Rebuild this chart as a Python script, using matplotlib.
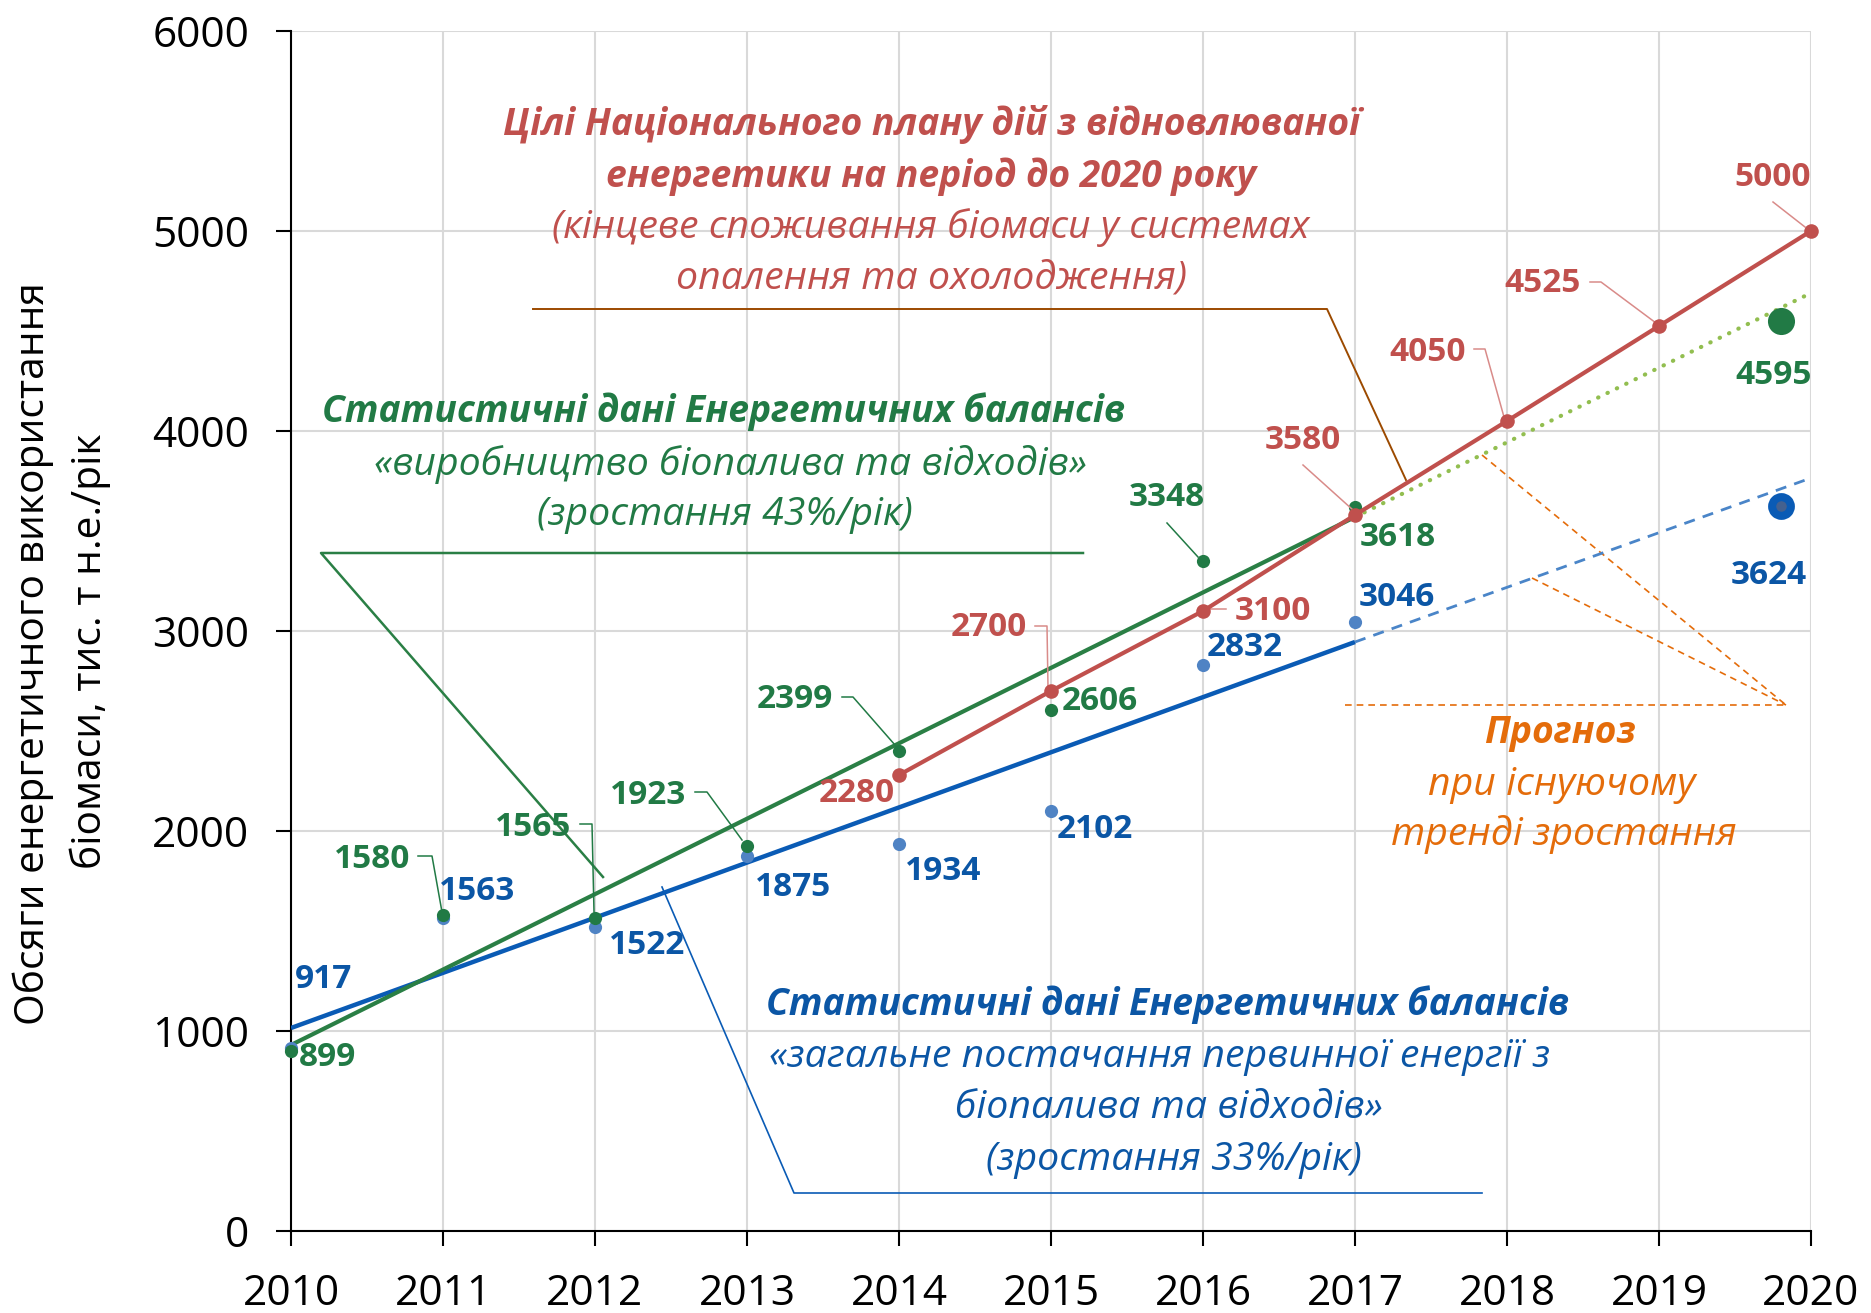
import matplotlib
matplotlib.use('Agg')
import matplotlib.pyplot as plt

plt.rcParams['font.family'] = ['Open Sans', 'DejaVu Sans']

# ---------------- data ----------------
years = [2010, 2011, 2012, 2013, 2014, 2015, 2016, 2017]
supply = [917, 1563, 1522, 1875, 1934, 2102, 2832, 3046]          # blue
production = [899, 1580, 1565, 1923, 2399, 2606, 3348, 3618]      # green
target_years = [2014, 2015, 2016, 2017, 2018, 2019, 2020]
target = [2280, 2700, 3100, 3580, 4050, 4525, 5000]               # red

trend_years = [2010, 2017]
supply_trend = [1015, 2945]
production_trend = [930, 3570]
forecast_years = [2017, 2020]
supply_forecast_line = [2945, 3765]
production_forecast_line = [3570, 4690]

forecast_point_year = 2019.8
supply_forecast = 3624
production_forecast = 4595
production_forecast_marker = 4550

x_ticks = [2010, 2011, 2012, 2013, 2014, 2015, 2016, 2017, 2018, 2019, 2020]
y_ticks = [0, 1000, 2000, 3000, 4000, 5000, 6000]

# ---------------- colours ----------------
RED = '#C0504D'
RED_LIGHT = '#D98B89'
GREEN = '#217A45'
GREEN_LINE = '#2A7F45'
GREEN_DOT = '#92BE50'
BLUE_TXT = '#0B56A5'
BLUE_LINE = '#0A5BB5'
BLUE_PT = '#4F83C4'
BLUE_DASH = '#4A85C8'
ORANGE = '#E46C0A'
BROWN = '#9C4A00'

W, H = 1871, 1313
fig = plt.figure(figsize=(W / 100, H / 100), dpi=100)
X0, X1, Y0, Y1 = 291, 1811, 31, 1231
ax = fig.add_axes([X0 / W, (H - Y1) / H, (X1 - X0) / W, (Y1 - Y0) / H])
ax.set_xlim(2010, 2020)
ax.set_ylim(0, 6000)


def P(x, y):
    """full-image pixel -> data coordinates (for annotation placement)"""
    return 2010 + (x - X0) / 152.0, (Y1 - y) * 6000.0 / (Y1 - Y0)


renderer = fig.canvas.get_renderer()


def fit(text, width_px, **kw):
    t = fig.text(0, 0, text, fontsize=20, **kw)
    w = t.get_window_extent(renderer).width
    t.remove()
    return 20 * width_px / w


# grid & axes
ax.set_xticks(x_ticks)
ax.set_yticks(y_ticks)
ax.grid(True, color='#D9D9D9', lw=1.5, zorder=0)
ax.set_axisbelow(True)
for s in ['top', 'right']:
    ax.spines[s].set_visible(False)
for s in ['left', 'bottom']:
    ax.spines[s].set_color('black')
    ax.spines[s].set_linewidth(1.5)
ax.tick_params(axis='both', direction='out', length=11, width=1.5, labelsize=30.5)
ax.tick_params(axis='x', pad=19)
ax.tick_params(axis='y', pad=19)

# trend lines
ax.plot(trend_years, supply_trend, color=BLUE_LINE, lw=3.2, zorder=3, solid_capstyle='butt')
ax.plot(forecast_years, supply_forecast_line, color=BLUE_DASH, lw=2.0, ls=(0, (4, 3)), zorder=3)
ax.plot(trend_years, production_trend, color=GREEN_LINE, lw=3.0, zorder=3, solid_capstyle='butt')
ax.plot(forecast_years, production_forecast_line, color=GREEN_DOT, lw=3.0,
        ls=(0, (0.1, 2.4)), dash_capstyle='round', zorder=3)

# data points
ax.plot(years, supply, 'o', color=BLUE_PT, ms=9.5, mew=0, zorder=4, clip_on=False)
ax.plot(years, production, 'o', color=GREEN, ms=9.5, mew=0, zorder=5, clip_on=False)
ax.plot(target_years, target, '-o', color=RED, lw=3.0, ms=10.5, mew=0, zorder=6, clip_on=False)

# forecast points
ax.plot([forecast_point_year], [production_forecast_marker], 'o', color=GREEN, ms=19.5,
        mew=0, zorder=7, clip_on=False)
ax.plot([forecast_point_year], [supply_forecast], 'o', mfc='#44618F', mec='#0A5BB5',
        ms=13.5, mew=5.8, zorder=7, clip_on=False)

# ---------------- data labels ----------------
lab_fs = 24
supply_pos = [(323, 979), (477, 891), (647, 945), (793, 887), (943, 872), (1095, 830),
              (1245, 648), (1397, 597)]
production_pos = [(327, 1057), (372, 859), (533, 827), (648, 796), (795, 700), (1100, 702),
                  (1167, 497), (1398, 537)]
target_pos = [(857, 793), (989, 627), (1273, 612), (1303, 440), (1428, 352), (1543, 283),
              (1773, 178)]

for v, p in zip(supply, supply_pos):
    ax.text(*P(*p), f'{v}', color=BLUE_TXT, fontsize=lab_fs, fontweight='bold',
            ha='center', va='center', zorder=8)
for v, p in zip(production, production_pos):
    ax.text(*P(*p), f'{v}', color=GREEN, fontsize=lab_fs, fontweight='bold',
            ha='center', va='center', zorder=8)
for v, p in zip(target, target_pos):
    ax.text(*P(*p), f'{v}', color=RED, fontsize=lab_fs, fontweight='bold',
            ha='center', va='center', zorder=8)
ax.text(*P(1769, 575), f'{supply_forecast}', color=BLUE_TXT, fontsize=lab_fs,
        fontweight='bold', ha='center', va='center', zorder=8, clip_on=False)
ax.text(*P(1774, 375), f'{production_forecast}', color=GREEN, fontsize=lab_fs,
        fontweight='bold', ha='center', va='center', zorder=8, clip_on=False)


def poly(pts, color, lw, ls='-', z=2):
    xs, ys = zip(*[P(*q) for q in pts])
    ax.plot(xs, ys, color=color, lw=lw, ls=ls, zorder=z, clip_on=False)


# label leader lines
for pts in [[(418, 856), (432, 856), (442, 912)],
            [(580, 824), (592, 824), (594, 912)],
            [(695, 792), (707, 792), (742, 840)],
            [(842, 697), (853, 697), (895, 745)],
            [(1167, 523), (1198, 557)]]:
    poly(pts, GREEN, 1.1, z=4)
for pts in [[(1035, 626), (1047, 626), (1048, 687)],
            [(1203, 609), (1226, 609)],
            [(1303, 465), (1353, 510)],
            [(1474, 349), (1485, 349), (1504, 417)],
            [(1590, 282), (1601, 282), (1656, 323)],
            [(1773, 202), (1805, 227)]]:
    poly(pts, RED_LIGHT, 1.1, z=5)

# callout lines
poly([(533, 309), (1327, 309), (1406, 480)], BROWN, 1.4)
poly([(1083, 553), (321, 553), (603, 877)], GREEN_LINE, 1.8)
poly([(662, 887), (794, 1193), (1482, 1193)], BLUE_LINE, 1.2)
poly([(1345, 705), (1786, 705)], ORANGE, 1.2, ls=(0, (4, 3)))
poly([(1482, 455), (1786, 705)], ORANGE, 1.2, ls=(0, (4, 3)))
poly([(1532, 578), (1786, 705)], ORANGE, 1.2, ls=(0, (4, 3)))

# ---------------- annotation blocks ----------------
bi = dict(fontweight='bold', fontstyle='italic')
it = dict(fontweight='normal', fontstyle='italic')
fs_bi = fit('Статистичні дані Енергетичних балансів', 803, **bi)
fs_it = fit('(кінцеве споживання біомаси у системах', 757, **it)


def block(lines, color):
    for txt, (x, y), st in lines:
        ax.text(*P(x, y), txt, color=color, ha='center', va='center',
                fontsize=fs_bi if st is bi else fs_it, zorder=9, clip_on=False, **st)


block([('Цілі Національного плану дій з відновлюваної', (932, 124), bi),
       ('енергетики на період до 2020 року', (931, 177), bi),
       ('(кінцеве споживання біомаси у системах', (931, 228), it),
       ('опалення та охолодження)', (931, 279), it)], RED)
block([('Статистичні дані Енергетичних балансів', (724, 412), bi),
       ('«виробництво біопалива та відходів»', (730, 464), it),
       ('(зростання 43%/рік)', (725, 515), it)], GREEN)
block([('Статистичні дані Енергетичних балансів', (1168, 1005), bi),
       ('«загальне постачання первинної енергії з', (1160, 1057), it),
       ('біопалива та відходів»', (1169, 1108), it),
       ('(зростання 33%/рік)', (1174, 1160), it)], BLUE_TXT)
block([('Прогноз', (1560, 733), bi),
       ('при існуючому', (1562, 785), it),
       ('тренді зростання', (1564, 835), it)], ORANGE)

# y axis label (two lines)
fs_y = fit('Обсяги енергетичного використання', 743)
fig.text(33 / W, 1 - 654 / H, 'Обсяги енергетичного використання', rotation=90,
         ha='center', va='center', fontsize=fs_y)
fig.text(90 / W, 1 - 651 / H, 'біомаси, тис. т н.е./рік', rotation=90,
         ha='center', va='center', fontsize=fs_y)

fig.savefig('out.png', dpi=100)
